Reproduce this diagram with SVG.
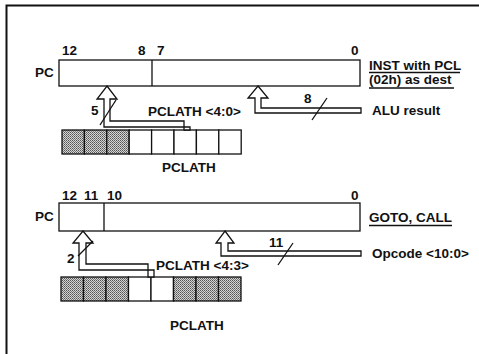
<svg xmlns="http://www.w3.org/2000/svg" width="479" height="354" viewBox="0 0 479 354">
<style>
text{font-family:"Liberation Sans",Arial,sans-serif;font-size:13.5px;font-weight:bold;fill:#111}
.box{fill:#fff;stroke:#111;stroke-width:1.3}
.sh{fill:url(#dots);stroke:#111;stroke-width:1.3}
.ar{fill:#fff;stroke:#111;stroke-width:1.3;stroke-linejoin:miter}
.ln{stroke:#111;stroke-width:1.3;fill:none}
</style>
<defs>
<pattern id="dots" width="2" height="2" patternUnits="userSpaceOnUse">
<rect width="2" height="2" fill="#d4d4d4"/>
<rect width="1" height="1" fill="#555"/>
<rect x="1" y="1" width="1" height="1" fill="#777"/>
</pattern>
</defs>
<rect width="479" height="354" fill="#fff"/>
<path d="M6.5 354 V5.5 H479" fill="none" stroke="#111" stroke-width="2"/>

<g id="pc-top">
<rect class="box" x="59" y="60" width="301" height="26"/>
<line class="ln" x1="152" y1="60" x2="152" y2="86"/>
<text x="35" y="77">PC</text>
<text x="62" y="55">12</text>
<text x="138" y="55">8</text>
<text x="157" y="55">7</text>
<text x="351" y="55">0</text>
</g>
<g id="label-inst">
<text x="369" y="70">INST with PCL</text>
<text x="369" y="84">(02h) as dest</text>
<line class="ln" x1="369" y1="72.5" x2="460" y2="72.5"/>
<line class="ln" x1="369" y1="88" x2="454" y2="88"/>
</g>
<g id="pclath-top">
<rect class="sh" x="62" y="130" width="22.4" height="24"/>
<rect class="sh" x="84.4" y="130" width="22.4" height="24"/>
<rect class="sh" x="106.8" y="130" width="22.4" height="24"/>
<rect class="box" x="129.2" y="130" width="22.4" height="24"/>
<rect class="box" x="151.6" y="130" width="22.4" height="24"/>
<rect class="box" x="174" y="130" width="22.4" height="24"/>
<rect class="box" x="196.4" y="130" width="22.4" height="24"/>
<rect class="box" x="218.8" y="130" width="22.4" height="24"/>
<text x="162" y="172">PCLATH</text>
</g>

<g id="pc-bottom">
<rect class="box" x="59" y="203" width="301" height="28"/>
<line class="ln" x1="104" y1="203" x2="104" y2="231"/>
<text x="35" y="221">PC</text>
<text x="62" y="200">12</text>
<text x="84" y="200">11</text>
<text x="107" y="200">10</text>
<text x="351" y="200">0</text>
</g>
<g id="label-goto">
<text x="369" y="222">GOTO, CALL</text>
<line class="ln" x1="369" y1="225.5" x2="452" y2="225.5"/>
</g>
<g id="pclath-bottom">
<rect class="sh" x="61" y="277" width="22.5" height="24"/>
<rect class="sh" x="83.5" y="277" width="22.5" height="24"/>
<rect class="sh" x="106" y="277" width="22.5" height="24"/>
<rect class="box" x="128.5" y="277" width="22.5" height="24"/>
<rect class="box" x="151" y="277" width="22.5" height="24"/>
<rect class="sh" x="173.5" y="277" width="22.5" height="24"/>
<rect class="sh" x="196" y="277" width="22.5" height="24"/>
<rect class="sh" x="218.5" y="277" width="22.5" height="24"/>
<text x="170" y="330">PCLATH</text>
</g>

<g id="connectors">
<path class="ar" d="M107 86 L117 99 H110 V121 H184 V130 H190 V127 H104 V99 H97 Z"/>
<line class="ln" x1="100" y1="125" x2="116" y2="100"/>
<text x="91" y="115">5</text>
<text x="148" y="116">PCLATH &lt;4:0&gt;</text>

<path class="ar" d="M258 86 L268 98 H261 V108 H361 V113 H255 V98 H248 Z"/>
<line class="ln" x1="312" y1="120" x2="327" y2="98"/>
<text x="304" y="103">8</text>
<text x="372" y="115">ALU result</text>

<path class="ar" d="M83 231 L93 243 H86 V264 H148 V277 H154 V270 H79 V243 H73 Z"/>
<line class="ln" x1="78" y1="256" x2="93" y2="241"/>
<text x="67" y="263">2</text>
<text x="156" y="270">PCLATH &lt;4:3&gt;</text>

<path class="ar" d="M225 231 L234 243 H228 V251 H361 V256 H221 V243 H216 Z"/>
<line class="ln" x1="278" y1="265" x2="293" y2="243"/>
<text x="269" y="247">11</text>
<text x="372" y="258">Opcode &lt;10:0&gt;</text>
</g>
</svg>
